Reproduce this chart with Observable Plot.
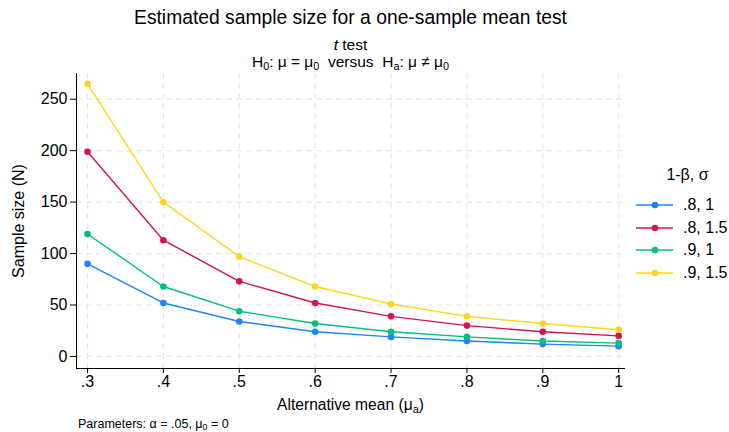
<!DOCTYPE html>
<html>
<head>
<meta charset="utf-8">
<script src="https://cdn.jsdelivr.net/npm/d3@7"></script>
<script src="https://cdn.jsdelivr.net/npm/@observablehq/plot@0.6"></script>
<style>
  html, body { margin: 0; padding: 0; background: #fff; }
  body { width: 729px; height: 432px; position: relative; overflow: hidden; font-family: "Liberation Sans", Arial, sans-serif; color: #000; }
  .t { position: absolute; white-space: nowrap; line-height: 1; }
  sub { font-size: 0.7em; vertical-align: -0.25em; line-height: 0; }
  #chart { position: absolute; left: 0; top: 70px; }
  #legend { position: absolute; left: 630px; top: 167px; }
</style>
</head>
<body>
<div class="t" id="title" style="left:76px;width:549px;text-align:center;top:8px;font-size:19.3px;">Estimated sample size for a one-sample mean test</div>
<div class="t" style="left:76px;width:549px;text-align:center;top:37px;font-size:15.5px;"><i>t</i> test</div>
<div class="t" style="left:76px;width:549px;text-align:center;top:54px;font-size:15.5px;">H<sub>0</sub>: μ = μ<sub>0</sub> &nbsp;versus &nbsp;H<sub>a</sub>: μ ≠ μ<sub>0</sub></div>
<div id="chart"></div>
<div id="legend"></div>
<div class="t" style="left:76px;width:549px;text-align:center;top:397px;font-size:15.6px;">Alternative mean (μ<sub>a</sub>)</div>
<div class="t" style="left:78px;top:418px;font-size:12.5px;">Parameters: α = .05, μ<sub>0</sub> = 0</div>
<script>
// ---- data ----
const means = [0.3, 0.4, 0.5, 0.6, 0.7, 0.8, 0.9, 1];
const seriesNames = [".8, 1", ".8, 1.5", ".9, 1", ".9, 1.5"];
const n_p80_s1  = [90, 52, 34, 24, 19, 15, 12, 10];
const n_p80_s15 = [199, 113, 73, 52, 39, 30, 24, 20];
const n_p90_s1  = [119, 68, 44, 32, 24, 19, 15, 13];
const n_p90_s15 = [265, 150, 97, 68, 51, 39, 32, 26];
const seriesColors = ["#1a85ff", "#d41159", "#00bf7f", "#ffd420"];
const yTicks = [0, 50, 100, 150, 200, 250];
const legendTitle = "1-β, σ";

const seriesValues = [n_p80_s1, n_p80_s15, n_p90_s1, n_p90_s15];
const rows = [];
seriesNames.forEach((s, i) => means.forEach((m, j) => rows.push({series: s, mean: m, n: seriesValues[i][j]})));

const fmtX = d => d3.format("~g")(d).replace(/^0\./, ".");
const xDomain = [0.2855, 1.009];
const yDomain = [-11.7, 275];

const chart = Plot.plot({
  width: 729,
  height: 320,
  marginLeft: 76,
  marginRight: 104,
  marginTop: 3,
  marginBottom: 22,
  style: {fontFamily: "Liberation Sans, Arial, sans-serif", fontSize: "16px", color: "#000", background: "#fff"},
  x: {domain: xDomain, ticks: means, tickFormat: fmtX, label: null},
  y: {domain: yDomain, ticks: yTicks, label: "Sample size (N)", labelAnchor: "center", labelArrow: "none"},
  color: {domain: seriesNames, range: seriesColors},
  marks: [
    Plot.gridX(means, {stroke: "#e8e8e8", strokeOpacity: 1, strokeDasharray: "6,4", strokeWidth: 1.2}),
    Plot.gridY(yTicks, {stroke: "#e8e8e8", strokeOpacity: 1, strokeDasharray: "6,4", strokeWidth: 1.2}),
    Plot.axisX({ticks: means, tickFormat: fmtX, tickSize: 5, tickPadding: 2, fontSize: 16, label: null}),
    Plot.axisY({ticks: yTicks, tickSize: 6, tickPadding: 3, fontSize: 16, label: "Sample size (N)", labelAnchor: "center", labelArrow: "none", labelOffset: 64}),
    Plot.ruleX([xDomain[0]], {stroke: "#000", strokeWidth: 1}),
    Plot.ruleY([yDomain[0]], {stroke: "#000", strokeWidth: 1}),
    Plot.line(rows, {x: "mean", y: "n", stroke: "series", strokeWidth: 1.4}),
    Plot.dot(rows, {x: "mean", y: "n", fill: "series", r: 3.3, stroke: "none"})
  ]
});
document.getElementById("chart").appendChild(chart);

// ---- legend ----
const leg = d3.select("#legend");
leg.append("div").attr("class", "t").style("position", "absolute").style("left", "4px").style("width", "107px")
  .style("text-align", "center").style("top", "0px").style("font-size", "16px").text(legendTitle);
seriesNames.forEach((s, i) => {
  const row = leg.append("div").style("position", "absolute").style("left", "0px").style("top", (30 + i * 22.5) + "px")
    .style("height", "16px").style("width", "110px");
  const svg = row.append("svg").attr("width", 48).attr("height", 16).style("position", "absolute").style("left", "0").style("top", "0");
  svg.append("line").attr("x1", 6).attr("x2", 43).attr("y1", 8).attr("y2", 8).attr("stroke", seriesColors[i]).attr("stroke-width", 1.4);
  svg.append("circle").attr("cx", 25).attr("cy", 8).attr("r", 3.3).attr("fill", seriesColors[i]);
  row.append("div").attr("class", "t").style("left", "53px").style("top", "0px").style("font-size", "16px").text(s);
});
</script>
</body>
</html>
